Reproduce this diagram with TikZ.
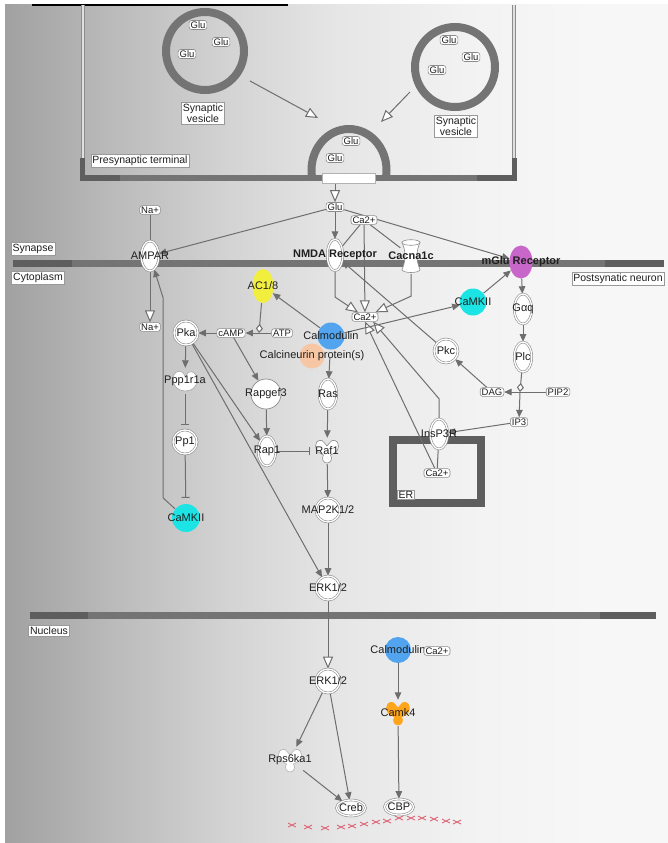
\documentclass[tikz,border=0pt]{standalone}
\usepackage{fontspec}
\setmainfont{Liberation Sans}
\usetikzlibrary{arrows.meta,shapes.geometric,positioning}
\definecolor{lc}{HTML}{6E6E6E}
\definecolor{barc}{HTML}{747474}
\definecolor{bard}{HTML}{5E5E5E}
\definecolor{cyanish}{HTML}{1CE4E4}
\definecolor{calmblue}{HTML}{52A4EE}
\definecolor{peach}{HTML}{F7C7A5}
\definecolor{acyellow}{HTML}{F2EE3E}
\definecolor{mglupink}{HTML}{C866CA}
\definecolor{kinorange}{HTML}{FFA51C}
\definecolor{xred}{HTML}{DC6474}
\pgfdeclarehorizontalshading{bgh}{100bp}{color(0bp)=(black!37); color(25bp)=(black!37); color(33bp)=(black!27); color(42bp)=(black!17); color(50bp)=(black!10); color(60bp)=(black!5); color(70bp)=(black!3); color(100bp)=(black!3)}
\pgfdeclarelayer{bg}
\pgfdeclarelayer{edges}
\pgfsetlayers{bg,edges,main}

\begin{document}
\begin{tikzpicture}[x=1pt, y=-1pt,
  gtxt/.style={font=\fontsize{11}{12}\selectfont, text=black!88, inner sep=0pt},
  btxt/.style={font=\fontsize{11}{12}\selectfont\bfseries, text=black!88, inner sep=0pt},
  mol/.style={draw=black!45, fill=white, rounded corners=2.5pt, line width=0.6pt, inner xsep=1.5pt, inner ysep=1pt, font=\fontsize{9.5}{10}\selectfont, text=black!88},
  comp/.style={draw=black!40, fill=white, line width=0.5pt, inner sep=1.5pt, font=\fontsize{10.5}{11.5}\selectfont, text=black!88, align=center},
  dbl/.style={draw=black!45, double=white, double distance=1.3pt, line width=0.6pt, fill=white, inner sep=0pt},
  dell/.style={dbl, ellipse, minimum width=17.5pt, minimum height=30pt, label={[gtxt]center:#1}},
  bdell/.style={dbl, ellipse, minimum width=15.5pt, minimum height=31.5pt, label={[btxt]center:#1}},
  dcirc/.style={dbl, circle, minimum size=24pt, label={[gtxt]center:#1}},
  dov/.style={dbl, ellipse, minimum width=29pt, minimum height=16pt, label={[gtxt]center:#1}},
  sc/.style={circle, draw=black!45, fill=white, line width=0.7pt, minimum size=30pt, inner sep=0pt, label={[gtxt]center:#1}},
  ball/.style 2 args={circle, fill=#1, minimum size=27pt, inner sep=0pt, label={[gtxt]center:#2}},
  ves/.style={circle, draw=barc, line width=8pt, minimum size=#1, inner sep=0pt},
  kin/.style n args={3}{minimum size=26pt, inner sep=0pt,
    path picture={\filldraw[fill=#1, draw=#2, line width=0.6pt, shift={(path picture bounding box.center)}]
      (-11.5,-5) .. controls (-11.5,-11.5) and (-4.5,-12.5) .. (-2.5,-8) -- (0,-5) -- (2.5,-8)
      .. controls (4.5,-12.5) and (11.5,-11.5) .. (11.5,-5) .. controls (11.5,1) and (6,2.5) .. (3.5,4)
      .. controls (6,8) and (3.5,12) .. (0,12) .. controls (-3.5,12) and (-6,8) .. (-3.5,4)
      .. controls (-6,2.5) and (-11.5,1) .. (-11.5,-5) -- cycle;},
    label={[gtxt]center:#3}},
  phos/.style={minimum size=26pt, inner sep=0pt,
    path picture={\filldraw[fill=white, draw=black!35, line width=0.6pt, shift={(path picture bounding box.center)}]
      (-2,-8.5) .. controls (-7,-12) and (-12.5,-8) .. (-12,-1) .. controls (-11.5,6) and (-6,10) .. (0,10)
      .. controls (7,10) and (12,6) .. (12,-1) .. controls (12,-8) and (7,-11) .. (3,-8.5) -- (0.5,-4) -- cycle;},
    label={[gtxt]center:#1}},
  chan/.style={minimum width=21pt, minimum height=36pt, inner sep=0pt,
    path picture={\begin{scope}[shift={(path picture bounding box.center)}]
      \filldraw[fill=white, draw=black!45, line width=0.6pt] (-9,-13.5) .. controls (-5,-5) and (-5,5) .. (-9,13.5)
        .. controls (-9,17.5) and (9,17.5) .. (9,13.5) .. controls (5,5) and (5,-5) .. (9,-13.5) -- cycle;
      \filldraw[fill=white, draw=black!45, line width=0.6pt] (0,-13.5) ellipse [x radius=9, y radius=2.8];
      \end{scope}},
    label={[btxt]center:#1}},
  lnk/.style={draw=lc, line width=1pt},
  arr/.style={lnk, -{Triangle[length=7.5pt, width=6.5pt]}},
  oarr/.style={lnk, -{Triangle[length=12pt, width=10pt, fill=white]}},
  dia/.style={lnk, -{Diamond[length=9pt, width=7pt, fill=white]}},
  inh/.style={lnk, -{Bar[width=8pt]}},
  xmk/.style={draw=xred, line width=0.9pt}
]
\useasboundingbox (0,0) rectangle (668,843);

\begin{pgfonlayer}{bg}
\fill[white] (0,0) rectangle (668,843);
\shade[shading=bgh] (5,5) rectangle (668,843);
\draw[black, line width=2pt] (32,5) -- (288,5);
\draw[black!45, double=black!12, double distance=2.2pt, line width=0.7pt] (83,5) -- (83,160) (514,5) -- (514,160);
\begin{scope}
\clip (300,110) rectangle (400,176);
\draw[barc, line width=8pt] (349,170) ellipse [x radius=37.5, y radius=41];
\end{scope}
\draw[barc, line width=5.5pt] (82.5,158) -- (82.5,178) -- (514.5,178) -- (514.5,158);
\draw[bard, line width=5.5pt] (82.5,158) -- (82.5,178) -- (120,178);
\draw[bard, line width=5.5pt] (477,178) -- (514.5,178) -- (514.5,158);
\fill[barc] (13,260) rectangle (664,267);
\fill[bard] (13,260) rectangle (72,267);
\fill[bard] (605,260) rectangle (664,267);
\fill[barc] (30,612) rectangle (656,619);
\fill[bard] (30,612) rectangle (88,619);
\fill[bard] (600,612) rectangle (656,619);
\draw[bard, line width=8pt] (393,440) rectangle (481,503);
\end{pgfonlayer}

\node[ves=78pt] (ves1) at (205,51) {};
\node[ves=80pt] (ves2) at (455,67) {};
\foreach \x/\y [count=\i] in {198/25,221/42,187/54}
  \node[mol] (gluA\i) at (\x,\y) {Glu};
\foreach \x/\y [count=\i] in {449/40,471/57,437/70}
  \node[mol] (gluB\i) at (\x,\y) {Glu};
\foreach \x/\y [count=\i] in {351/141,335/158}
  \node[mol] (gluC\i) at (\x,\y) {Glu};
\node[draw=black!30, fill=white, minimum width=53pt, minimum height=10pt, inner sep=0pt] (pore) at (348.5,178) {};
\coordinate (fuse1) at (318,118);
\coordinate (fuse2) at (381,122);

\node[comp] (sv1) at (203,113) {Synaptic\\vesicle};
\node[comp] (sv2) at (456,126) {Synaptic\\vesicle};
\node[comp] (presyn) at (140,161) {Presynaptic terminal};
\node[comp] (synapse) at (33,249) {Synapse};
\node[comp] (cyto) at (38,278) {Cytoplasm};
\node[comp] (postsyn) at (618,279) {Postsynatic neuron};
\node[comp] (nucleus) at (49,631) {Nucleus};
\node[comp, inner sep=1pt] (erlbl) at (406,495) {ER};

\node[mol] (gluS) at (335,207) {Glu};
\node[mol] (caS) at (364,220) {Ca2+};
\node[mol] (naO) at (150,210) {Na+};
\node[mol] (naI) at (150,327) {Na+};
\node[dell=AMPAR] (ampar) at (150,256) {};
\node[bdell=NMDA Receptor] (nmda) at (335,255) {};
\node[chan=Cacna1c] (cacna) at (411,256) {};
\node[ellipse, fill=mglupink, minimum width=23pt, minimum height=33pt, inner sep=0pt, label={[btxt]center:mGlu Receptor}] (mglu) at (521,262) {};

\node[ball={acyellow}{AC1/8}, ellipse, minimum width=21pt, minimum height=34pt] (ac18) at (263,286) {};
\node[mol] (atp) at (282,333) {ATP};
\node[mol] (camp) at (231,333) {cAMP};
\coordinate (rCamp) at (259,333);
\node[dcirc=Pka] (pka) at (186,333) {};
\node[ball={peach}{Calcineurin protein(s)}, minimum size=25pt] (calcin) at (312,356) {};
\node[ball={calmblue}{Calmodulin}] (calm) at (331,336) {};
\node[mol] (caC) at (365,317) {Ca2+};
\node[ball={cyanish}{CaMKII}] (camk2a) at (473,302) {};
\node[dcirc=Pkc] (pkc) at (446,351) {};
\node[dell=Gαq] (gaq) at (523,309) {};
\node[dell=Plc] (plc) at (523,357) {};
\coordinate (rPlc) at (520,392);
\node[mol] (pip2) at (558,392) {PIP2};
\node[mol] (dag) at (492,392) {DAG};
\node[mol] (ip3) at (519,422) {IP3};
\node[dell=InsP3R] (insp3r) at (439,434) {};
\node[mol] (caER) at (437,473) {Ca2+};

\node[phos=Ppp1r1a] (ppp1r1a) at (185,381) {};
\node[dcirc=Pp1] (pp1) at (185,442) {};
\node[ball={cyanish}{CaMKII}, minimum size=28pt] (camk2b) at (186,518) {};
\node[sc=Rapgef3] (rapgef3) at (266,394) {};
\node[dell=Rap1] (rap1) at (267,451) {};
\node[dell=Ras] (ras) at (328,394) {};
\node[kin={white}{black!45}{Raf1}] (raf1) at (327,451) {};
\node[dcirc=MAP2K1/2] (map2k) at (328,510) {};
\node[dcirc=ERK1/2] (erk1) at (328,588) {};

\node[dcirc=ERK1/2] (erk2) at (328,681) {};
\node[kin={white}{black!30}{Rps6ka1}] (rps6) at (290,760) {};
\node[dov=Creb] (creb) at (351,808) {};
\node[dov=CBP] (cbp) at (399,807) {};
\node[ball={calmblue}{Calmodulin}, minimum size=26pt] (calmN) at (398,650) {};
\node[mol] (caN) at (437,651) {Ca2+};
\node[kin={kinorange}{kinorange}{Camk4}] (camk4) at (398,713) {};

\foreach \x/\y in {292/825,308/827,325/828,341/827,352/826,364/824,376/822,387/821,399/818,411/818,422/818,434/819,446/821,457/822}
  \draw[xmk] (\x-4,\y-2) -- (\x+4,\y+2) (\x-4,\y+2) -- (\x+4,\y-2);

\begin{pgfonlayer}{edges}
\draw[oarr, shorten <=11pt] (ves1.-35) -- (fuse1);
\draw[oarr, shorten <=8pt] (ves2.206) -- (fuse2);
\draw[oarr] (pore.south -| gluS) -- (gluS);
\draw[arr] (gluS) -- (ampar);
\draw[arr] (gluS) -- (nmda);
\draw[arr] (gluS) -- (mglu);
\draw[lnk] (naO) -- (ampar);
\draw[oarr] (ampar) -- (naI);
\draw[lnk] (caS) -- (nmda);
\draw[lnk] (caS) -- (cacna);
\draw[oarr] (caS) -- (caC);
\draw[oarr] (nmda.south) -- ++(0,26) -- (caC);
\draw[oarr] (cacna.south) -- ++(0,22) -- (caC);
\draw[oarr] (insp3r.north) -- ++(0,-20) -- (caC.-30);
\draw[oarr] (caER) -- (caC.south);
\draw[arr] (pkc) -- (nmda);
\draw[arr] (calm) -- (camk2a);
\draw[arr] (camk2a) -- (mglu);
\draw[arr] (mglu) -- (gaq);
\draw[arr] (gaq) -- (plc);
\draw[dia] (plc) -- (rPlc);
\draw[arr] (pip2) -- (dag);
\draw[arr] (rPlc) -- (ip3);
\draw[arr] (dag) -- (pkc);
\draw[arr] (ip3) -- (insp3r);
\draw[lnk] (insp3r) -- (caER);
\draw[arr] (calm) -- (ac18);
\draw[dia] (ac18) -- (rCamp);
\draw[arr] (atp) -- (camp);
\draw[arr] (camp) -- (pka);
\draw[arr] (camp) -- (rapgef3);
\draw[arr] (rapgef3) -- (rap1);
\draw[arr] (pka) -- (rap1);
\draw[arr] (pka) -- (erk1);
\draw[arr] (pka) -- (ppp1r1a);
\draw[inh, shorten >=5pt] (ppp1r1a) -- (pp1);
\draw[inh, shorten >=6pt] (pp1) -- (camk2b);
\draw[arr] (camk2b.140) -- ++(-12,-11) -- ++(0,-200) -- (ampar);
\draw[arr, shorten <=8pt] (calm) -- (ras);
\draw[arr] (ras) -- (raf1);
\draw[inh, shorten >=4pt] (rap1) -- (raf1);
\draw[arr] (raf1) -- (map2k);
\draw[arr] (map2k) -- (erk1);
\draw[oarr] (erk1) -- (erk2);
\draw[arr] (erk2) -- (rps6);
\draw[arr] (erk2) -- (creb);
\draw[arr] (rps6) -- (creb);
\draw[arr] (calmN) -- (camk4);
\draw[arr] (camk4) -- (cbp);
\end{pgfonlayer}
\end{tikzpicture}
\end{document}
